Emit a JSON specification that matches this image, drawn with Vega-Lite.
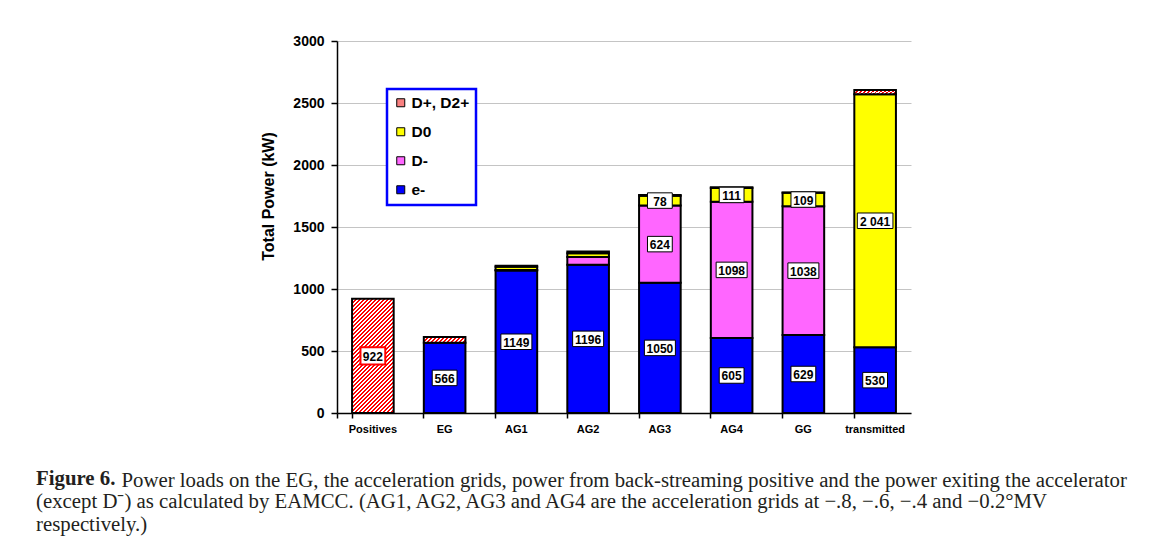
{
  "$schema": "https://vega.github.io/schema/vega-lite/v6.json",
  "width": 574,
  "height": 372,
  "autosize": {"type": "none"},
  "padding": {"left": 337, "top": 41, "right": 260, "bottom": 137},
  "background": "white",
  "config": {"view": {"stroke": null}},
  "title": {
    "text": "Figure 6.",
    "subtitle": [
      "(except D⁻) as calculated by EAMCC. (AG1, AG2, AG3 and AG4 are the acceleration grids at −.8, −.6, −.4 and −0.2°MV",
      "respectively.)"
    ],
    "orient": "bottom",
    "anchor": "start",
    "frame": "group",
    "dx": -301,
    "offset": -21,
    "baseline": "top",
    "font": "Liberation Serif",
    "fontSize": 20.8,
    "fontWeight": "bold",
    "color": "#231f20",
    "subtitleFont": "Liberation Serif",
    "subtitleFontSize": 20.8,
    "subtitleFontWeight": "normal",
    "subtitleColor": "#231f20",
    "subtitleLineHeight": 23,
    "subtitlePadding": 2.2
  },
  "data": {
    "values": [
      {"cat": "Positives", "species": "D+, D2+", "value": 922, "label": "922"},
      {"cat": "EG", "species": "e-", "value": 566, "label": "566"},
      {"cat": "EG", "species": "D+, D2+", "value": 47},
      {"cat": "AG1", "species": "e-", "value": 1149, "label": "1149"},
      {"cat": "AG1", "species": "D-", "value": 5},
      {"cat": "AG1", "species": "D0", "value": 25},
      {"cat": "AG1", "species": "D+, D2+", "value": 8},
      {"cat": "AG2", "species": "e-", "value": 1196, "label": "1196"},
      {"cat": "AG2", "species": "D-", "value": 62},
      {"cat": "AG2", "species": "D0", "value": 30},
      {"cat": "AG2", "species": "D+, D2+", "value": 14},
      {"cat": "AG3", "species": "e-", "value": 1050, "label": "1050"},
      {"cat": "AG3", "species": "D-", "value": 624, "label": "624"},
      {"cat": "AG3", "species": "D0", "value": 78, "label": "78"},
      {"cat": "AG3", "species": "D+, D2+", "value": 6},
      {"cat": "AG4", "species": "e-", "value": 605, "label": "605"},
      {"cat": "AG4", "species": "D-", "value": 1098, "label": "1098"},
      {"cat": "AG4", "species": "D0", "value": 111, "label": "111"},
      {"cat": "AG4", "species": "D+, D2+", "value": 6},
      {"cat": "GG", "species": "e-", "value": 629, "label": "629"},
      {"cat": "GG", "species": "D-", "value": 1038, "label": "1038"},
      {"cat": "GG", "species": "D0", "value": 109, "label": "109"},
      {"cat": "GG", "species": "D+, D2+", "value": 3},
      {"cat": "transmitted", "species": "e-", "value": 530, "label": "530"},
      {"cat": "transmitted", "species": "D0", "value": 2041, "label": "2 041"},
      {"cat": "transmitted", "species": "D+, D2+", "value": 34}
    ]
  },
  "transform": [
    {"calculate": "indexof(['e-','D-','D0','D+, D2+'], datum.species)", "as": "ord"},
    {"stack": "value", "groupby": ["cat"], "sort": [{"field": "ord", "order": "ascending"}], "as": ["v0", "v1"]},
    {"calculate": "(datum.v0 + datum.v1) / 2", "as": "mid"}
  ],
  "encoding": {
    "x": {
      "field": "cat",
      "type": "nominal",
      "sort": null,
      "scale": {"domain": ["Positives", "EG", "AG1", "AG2", "AG3", "AG4", "GG", "transmitted"], "paddingInner": 0.42, "paddingOuter": 0.21},
      "axis": {
        "title": "Power loads on the EG, the acceleration grids, power from back-streaming positive and the power exiting the accelerator",
        "titleX": -216,
        "titleY": 57,
        "titleAlign": "left",
        "titleBaseline": "top",
        "titleFont": "Liberation Serif",
        "titleFontSize": 20.8,
        "titleFontWeight": "normal",
        "titleColor": "#231f20",
        "titleLimit": 2000,
        "labelAngle": 0,
        "bandPosition": 0,
        "tickExtra": true,
        "tickSize": 5,
        "tickColor": "black",
        "tickWidth": 1.5,
        "domainColor": "black",
        "domainWidth": 1.5,
        "labelFont": "Liberation Sans",
        "labelFontWeight": "bold",
        "labelFontSize": 11,
        "labelColor": "black",
        "labelPadding": 5,
        "grid": false
      }
    }
  },
  "layer": [
    {
      "mark": {"type": "bar", "stroke": "black", "strokeWidth": 2},
      "encoding": {
        "y": {
          "field": "v1",
          "type": "quantitative",
          "scale": {"domain": [0, 3000], "nice": false},
          "axis": {
            "values": [0, 500, 1000, 1500, 2000, 2500, 3000],
            "format": "d",
            "title": "Total Power (kW)",
            "titleFont": "Liberation Sans",
            "titleFontSize": 16,
            "titleFontWeight": "bold",
            "titleColor": "black",
            "titleAngle": -90,
            "titleX": -69,
            "titleY": 155,
            "titleAlign": "center",
            "titleBaseline": "middle",
            "labelFont": "Liberation Sans",
            "labelFontWeight": "bold",
            "labelFontSize": 14,
            "labelColor": "black",
            "labelPadding": 7,
            "tickSize": 6,
            "tickColor": "black",
            "tickWidth": 1.5,
            "domainColor": "black",
            "domainWidth": 1.5,
            "gridColor": "#c4c4c4",
            "gridWidth": 1
          }
        },
        "y2": {"field": "v0"},
        "fill": {
          "field": "species",
          "type": "nominal",
          "scale": {
            "domain": ["D+, D2+", "D0", "D-", "e-"],
            "range": ["#f88080", "#ffff00", "#ff66ff", "#0000ff"]
          },
          "legend": {
            "title": null,
            "orient": "none",
            "legendX": 50,
            "legendY": 48,
            "symbolType": "square",
            "symbolSize": 64,
            "symbolStrokeColor": "black",
            "symbolStrokeWidth": 1,
            "labelFont": "Liberation Sans",
            "labelFontSize": 15.5,
            "labelFontWeight": "bold",
            "labelColor": "black",
            "labelOffset": 3,
            "rowPadding": 12,
            "padding": 6,
            "strokeColor": "#0000ff",
            "fillColor": "white",
            "encode": {
              "legend": {"update": {"strokeWidth": {"value": 2.5}}},
              "symbols": {
                "update": {
                  "stroke": {"value": "black"},
                  "strokeWidth": {"value": 1},
                  "fill": {
                    "condition": [
                      {"test": "datum.value === 'D0'", "value": "#ffff00"},
                      {"test": "datum.value === 'D-'", "value": "#ff66ff"},
                      {"test": "datum.value === 'e-'", "value": "#0000ff"}
                    ],
                    "value": {"gradient": "linear", "x1": 0, "y1": 0, "x2": 1, "y2": 1, "stops": [
                      {"offset": 0, "color": "#f00"}, {"offset": 0.12, "color": "#f00"}, {"offset": 0.12, "color": "#fff"}, {"offset": 0.25, "color": "#fff"},
                      {"offset": 0.25, "color": "#f00"}, {"offset": 0.37, "color": "#f00"}, {"offset": 0.37, "color": "#fff"}, {"offset": 0.5, "color": "#fff"},
                      {"offset": 0.5, "color": "#f00"}, {"offset": 0.62, "color": "#f00"}, {"offset": 0.62, "color": "#fff"}, {"offset": 0.75, "color": "#fff"},
                      {"offset": 0.75, "color": "#f00"}, {"offset": 0.87, "color": "#f00"}, {"offset": 0.87, "color": "#fff"}, {"offset": 1, "color": "#fff"}
                    ]}
                  }
                }
              }
            }
          },
          "condition": [
            {"test": "datum.cat === 'Positives'", "value": {"gradient": "linear", "x1": 0, "y1": 0, "x2": 0.449, "y2": 1.235, "stops": [
              {"offset": 0, "color": "#f00"}, {"offset": 0.0125, "color": "#f00"}, {"offset": 0.0125, "color": "#fff"}, {"offset": 0.025, "color": "#fff"},
              {"offset": 0.025, "color": "#f00"}, {"offset": 0.0375, "color": "#f00"}, {"offset": 0.0375, "color": "#fff"}, {"offset": 0.05, "color": "#fff"},
              {"offset": 0.05, "color": "#f00"}, {"offset": 0.0625, "color": "#f00"}, {"offset": 0.0625, "color": "#fff"}, {"offset": 0.075, "color": "#fff"},
              {"offset": 0.075, "color": "#f00"}, {"offset": 0.0875, "color": "#f00"}, {"offset": 0.0875, "color": "#fff"}, {"offset": 0.1, "color": "#fff"},
              {"offset": 0.1, "color": "#f00"}, {"offset": 0.1125, "color": "#f00"}, {"offset": 0.1125, "color": "#fff"}, {"offset": 0.125, "color": "#fff"},
              {"offset": 0.125, "color": "#f00"}, {"offset": 0.1375, "color": "#f00"}, {"offset": 0.1375, "color": "#fff"}, {"offset": 0.15, "color": "#fff"},
              {"offset": 0.15, "color": "#f00"}, {"offset": 0.1625, "color": "#f00"}, {"offset": 0.1625, "color": "#fff"}, {"offset": 0.175, "color": "#fff"},
              {"offset": 0.175, "color": "#f00"}, {"offset": 0.1875, "color": "#f00"}, {"offset": 0.1875, "color": "#fff"}, {"offset": 0.2, "color": "#fff"},
              {"offset": 0.2, "color": "#f00"}, {"offset": 0.2125, "color": "#f00"}, {"offset": 0.2125, "color": "#fff"}, {"offset": 0.225, "color": "#fff"},
              {"offset": 0.225, "color": "#f00"}, {"offset": 0.2375, "color": "#f00"}, {"offset": 0.2375, "color": "#fff"}, {"offset": 0.25, "color": "#fff"},
              {"offset": 0.25, "color": "#f00"}, {"offset": 0.2625, "color": "#f00"}, {"offset": 0.2625, "color": "#fff"}, {"offset": 0.275, "color": "#fff"},
              {"offset": 0.275, "color": "#f00"}, {"offset": 0.2875, "color": "#f00"}, {"offset": 0.2875, "color": "#fff"}, {"offset": 0.3, "color": "#fff"},
              {"offset": 0.3, "color": "#f00"}, {"offset": 0.3125, "color": "#f00"}, {"offset": 0.3125, "color": "#fff"}, {"offset": 0.325, "color": "#fff"},
              {"offset": 0.325, "color": "#f00"}, {"offset": 0.3375, "color": "#f00"}, {"offset": 0.3375, "color": "#fff"}, {"offset": 0.35, "color": "#fff"},
              {"offset": 0.35, "color": "#f00"}, {"offset": 0.3625, "color": "#f00"}, {"offset": 0.3625, "color": "#fff"}, {"offset": 0.375, "color": "#fff"},
              {"offset": 0.375, "color": "#f00"}, {"offset": 0.3875, "color": "#f00"}, {"offset": 0.3875, "color": "#fff"}, {"offset": 0.4, "color": "#fff"},
              {"offset": 0.4, "color": "#f00"}, {"offset": 0.4125, "color": "#f00"}, {"offset": 0.4125, "color": "#fff"}, {"offset": 0.425, "color": "#fff"},
              {"offset": 0.425, "color": "#f00"}, {"offset": 0.4375, "color": "#f00"}, {"offset": 0.4375, "color": "#fff"}, {"offset": 0.45, "color": "#fff"},
              {"offset": 0.45, "color": "#f00"}, {"offset": 0.4625, "color": "#f00"}, {"offset": 0.4625, "color": "#fff"}, {"offset": 0.475, "color": "#fff"},
              {"offset": 0.475, "color": "#f00"}, {"offset": 0.4875, "color": "#f00"}, {"offset": 0.4875, "color": "#fff"}, {"offset": 0.5, "color": "#fff"},
              {"offset": 0.5, "color": "#f00"}, {"offset": 0.5125, "color": "#f00"}, {"offset": 0.5125, "color": "#fff"}, {"offset": 0.525, "color": "#fff"},
              {"offset": 0.525, "color": "#f00"}, {"offset": 0.5375, "color": "#f00"}, {"offset": 0.5375, "color": "#fff"}, {"offset": 0.55, "color": "#fff"},
              {"offset": 0.55, "color": "#f00"}, {"offset": 0.5625, "color": "#f00"}, {"offset": 0.5625, "color": "#fff"}, {"offset": 0.575, "color": "#fff"},
              {"offset": 0.575, "color": "#f00"}, {"offset": 0.5875, "color": "#f00"}, {"offset": 0.5875, "color": "#fff"}, {"offset": 0.6, "color": "#fff"},
              {"offset": 0.6, "color": "#f00"}, {"offset": 0.6125, "color": "#f00"}, {"offset": 0.6125, "color": "#fff"}, {"offset": 0.625, "color": "#fff"},
              {"offset": 0.625, "color": "#f00"}, {"offset": 0.6375, "color": "#f00"}, {"offset": 0.6375, "color": "#fff"}, {"offset": 0.65, "color": "#fff"},
              {"offset": 0.65, "color": "#f00"}, {"offset": 0.6625, "color": "#f00"}, {"offset": 0.6625, "color": "#fff"}, {"offset": 0.675, "color": "#fff"},
              {"offset": 0.675, "color": "#f00"}, {"offset": 0.6875, "color": "#f00"}, {"offset": 0.6875, "color": "#fff"}, {"offset": 0.7, "color": "#fff"},
              {"offset": 0.7, "color": "#f00"}, {"offset": 0.7125, "color": "#f00"}, {"offset": 0.7125, "color": "#fff"}, {"offset": 0.725, "color": "#fff"},
              {"offset": 0.725, "color": "#f00"}, {"offset": 0.7375, "color": "#f00"}, {"offset": 0.7375, "color": "#fff"}, {"offset": 0.75, "color": "#fff"},
              {"offset": 0.75, "color": "#f00"}, {"offset": 0.7625, "color": "#f00"}, {"offset": 0.7625, "color": "#fff"}, {"offset": 0.775, "color": "#fff"},
              {"offset": 0.775, "color": "#f00"}, {"offset": 0.7875, "color": "#f00"}, {"offset": 0.7875, "color": "#fff"}, {"offset": 0.8, "color": "#fff"},
              {"offset": 0.8, "color": "#f00"}, {"offset": 0.8125, "color": "#f00"}, {"offset": 0.8125, "color": "#fff"}, {"offset": 0.825, "color": "#fff"},
              {"offset": 0.825, "color": "#f00"}, {"offset": 0.8375, "color": "#f00"}, {"offset": 0.8375, "color": "#fff"}, {"offset": 0.85, "color": "#fff"},
              {"offset": 0.85, "color": "#f00"}, {"offset": 0.8625, "color": "#f00"}, {"offset": 0.8625, "color": "#fff"}, {"offset": 0.875, "color": "#fff"},
              {"offset": 0.875, "color": "#f00"}, {"offset": 0.8875, "color": "#f00"}, {"offset": 0.8875, "color": "#fff"}, {"offset": 0.9, "color": "#fff"},
              {"offset": 0.9, "color": "#f00"}, {"offset": 0.9125, "color": "#f00"}, {"offset": 0.9125, "color": "#fff"}, {"offset": 0.925, "color": "#fff"},
              {"offset": 0.925, "color": "#f00"}, {"offset": 0.9375, "color": "#f00"}, {"offset": 0.9375, "color": "#fff"}, {"offset": 0.95, "color": "#fff"},
              {"offset": 0.95, "color": "#f00"}, {"offset": 0.9625, "color": "#f00"}, {"offset": 0.9625, "color": "#fff"}, {"offset": 0.975, "color": "#fff"},
              {"offset": 0.975, "color": "#f00"}, {"offset": 0.9875, "color": "#f00"}, {"offset": 0.9875, "color": "#fff"}, {"offset": 1, "color": "#fff"}
            ]}},
            {"test": "datum.species === 'D+, D2+'", "value": {"gradient": "linear", "x1": 0, "y1": 0, "x2": 1.121, "y2": 0.162, "stops": [
              {"offset": 0, "color": "#f00"}, {"offset": 0.04, "color": "#f00"}, {"offset": 0.04, "color": "#fff"}, {"offset": 0.0833, "color": "#fff"},
              {"offset": 0.0833, "color": "#f00"}, {"offset": 0.1233, "color": "#f00"}, {"offset": 0.1233, "color": "#fff"}, {"offset": 0.1667, "color": "#fff"},
              {"offset": 0.1667, "color": "#f00"}, {"offset": 0.2067, "color": "#f00"}, {"offset": 0.2067, "color": "#fff"}, {"offset": 0.25, "color": "#fff"},
              {"offset": 0.25, "color": "#f00"}, {"offset": 0.29, "color": "#f00"}, {"offset": 0.29, "color": "#fff"}, {"offset": 0.3333, "color": "#fff"},
              {"offset": 0.3333, "color": "#f00"}, {"offset": 0.3733, "color": "#f00"}, {"offset": 0.3733, "color": "#fff"}, {"offset": 0.4167, "color": "#fff"},
              {"offset": 0.4167, "color": "#f00"}, {"offset": 0.4567, "color": "#f00"}, {"offset": 0.4567, "color": "#fff"}, {"offset": 0.5, "color": "#fff"},
              {"offset": 0.5, "color": "#f00"}, {"offset": 0.54, "color": "#f00"}, {"offset": 0.54, "color": "#fff"}, {"offset": 0.5833, "color": "#fff"},
              {"offset": 0.5833, "color": "#f00"}, {"offset": 0.6233, "color": "#f00"}, {"offset": 0.6233, "color": "#fff"}, {"offset": 0.6667, "color": "#fff"},
              {"offset": 0.6667, "color": "#f00"}, {"offset": 0.7067, "color": "#f00"}, {"offset": 0.7067, "color": "#fff"}, {"offset": 0.75, "color": "#fff"},
              {"offset": 0.75, "color": "#f00"}, {"offset": 0.79, "color": "#f00"}, {"offset": 0.79, "color": "#fff"}, {"offset": 0.8333, "color": "#fff"},
              {"offset": 0.8333, "color": "#f00"}, {"offset": 0.8733, "color": "#f00"}, {"offset": 0.8733, "color": "#fff"}, {"offset": 0.9167, "color": "#fff"},
              {"offset": 0.9167, "color": "#f00"}, {"offset": 0.9567, "color": "#f00"}, {"offset": 0.9567, "color": "#fff"}, {"offset": 1, "color": "#fff"}
            ]}}
          ]
        }
      }
    },
    {
      "transform": [{"filter": "isValid(datum.label)"}],
      "mark": {"type": "point", "filled": true, "fill": "white", "opacity": 1, "size": 961},
      "encoding": {
        "y": {"field": "mid", "type": "quantitative"},
        "shape": {
          "condition": [
            {"test": "length(datum.label) == 4", "value": "M-1.0,-0.5H1.0V0.5H-1.0Z"},
            {"test": "length(datum.label) == 5", "value": "M-1.15,-0.5H1.15V0.5H-1.15Z"},
            {"test": "datum.cat === 'Positives'", "value": "M-0.8,-0.56H0.8V0.56H-0.8Z"}
          ],
          "value": "M-0.8,-0.5H0.8V0.5H-0.8Z"
        },
        "stroke": {
          "condition": {"test": "datum.cat === 'Positives'", "value": "#ff0000"},
          "value": "black"
        },
        "strokeWidth": {
          "condition": {"test": "datum.cat === 'Positives'", "value": 2},
          "value": 1
        }
      }
    },
    {
      "transform": [{"filter": "isValid(datum.label)"}],
      "mark": {"type": "text", "font": "Liberation Sans", "fontWeight": "bold", "fontSize": 12, "color": "black", "align": "center", "baseline": "middle", "dy": 1},
      "encoding": {
        "y": {"field": "mid", "type": "quantitative"},
        "text": {"field": "label"}
      }
    }
  ]
}
